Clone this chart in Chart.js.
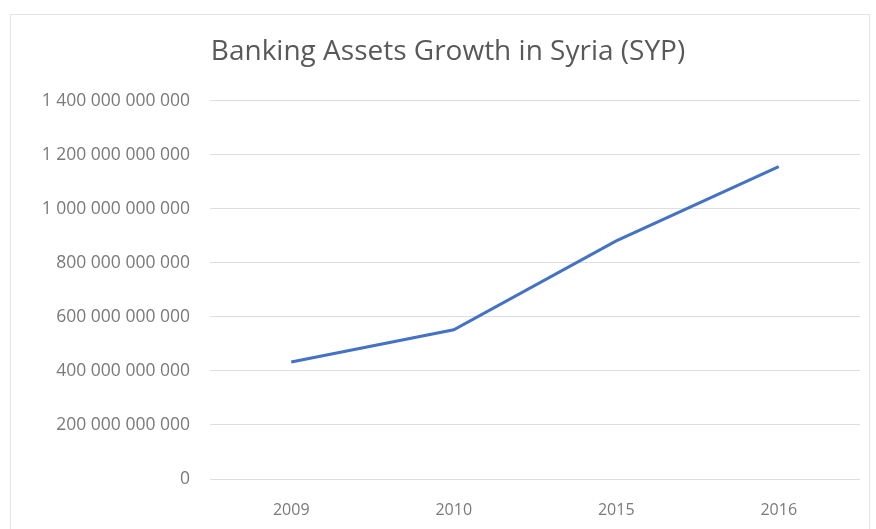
<!DOCTYPE html>
<html>
<head>
<meta charset="utf-8">
<script src="https://cdn.jsdelivr.net/npm/chart.js@4/dist/chart.umd.min.js"></script>
<style>
  html, body { margin: 0; padding: 0; background: #fff; }
  #wrap { position: relative; width: 876px; height: 529px; overflow: hidden; }
  #frame { position: absolute; left: 10px; top: 14px; width: 858px; height: 540px; border: 1px solid #e4e4e4; }
  #canvas { position: absolute; left: 0; top: 0; }
</style>
</head>
<body>
<div id="wrap">
  <div id="frame"></div>
  <canvas id="canvas" width="876" height="529"></canvas>
</div>
<script>
// years on the x axis
var years = ['2009', '2010', '2015', '2016'];
// total banking assets, SYP
var assets = [433000000000, 552000000000, 881000000000, 1156000000000];
// y axis ticks
var yMin = 0;
var yMax = 1400000000000;
var yStep = 200000000000;

function spaced(v) {
    return String(v).replace(/\B(?=(\d{3})+(?!\d))/g, ' ');
}

var ctx = document.getElementById('canvas').getContext('2d');
new Chart(ctx, {
    type: 'line',
    data: {
        labels: years,
        datasets: [{
            data: assets,
            borderColor: '#4472C4',
            borderWidth: 3,
            pointRadius: 0,
            tension: 0,
            fill: false
        }]
    },
    options: {
        responsive: false,
        animation: false,
        layout: { padding: { left: 36, right: 16, top: 0, bottom: 0 } },
        plugins: {
            legend: { display: false },
            tooltip: { enabled: false },
            title: {
                display: true,
                text: 'Banking Assets Growth in Syria (SYP)',
                color: '#595959',
                font: { family: 'Open Sans', size: 28, weight: 'normal' },
                padding: { top: 35, bottom: 32 }
            }
        },
        scales: {
            x: {
                offset: true,
                grid: { display: false },
                border: { display: false },
                ticks: {
                    color: '#7a7a7a',
                    font: { family: 'Open Sans', size: 16 },
                    padding: 14
                },
                afterFit: function (s) { s.height = 50; }
            },
            y: {
                min: yMin,
                max: yMax,
                grid: { color: '#dedede', lineWidth: 1, drawTicks: false },
                border: { display: false },
                ticks: {
                    stepSize: yStep,
                    color: '#7a7a7a',
                    font: { family: 'Open Sans', size: 17.5 },
                    padding: 20,
                    callback: function (v) { return spaced(v); }
                },
                afterFit: function (s) { s.width = 174; }
            }
        }
    }
});
</script>
</body>
</html>
